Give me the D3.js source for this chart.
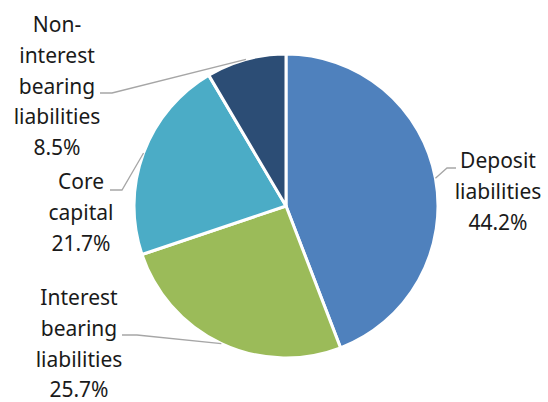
<!DOCTYPE html>
<meta charset="utf-8">
<html>
<script src="https://d3js.org/d3.v7.min.js"></script>
<style>
    body { margin: 0; background: #fff; }
    text { font-family: "Noto Sans", sans-serif; font-size: 21px; fill: #1a1a1a; }
</style>
<body>
<div id="chart"></div>
<script>
    // data
    var categories = ["Deposit liabilities", "Interest bearing liabilities", "Core capital", "Non-interest bearing liabilities"];
    var shares = [44.2, 25.7, 21.7, 8.5];
    var labelLines = [["Deposit", "liabilities"], ["Interest", "bearing", "liabilities"], ["Core", "capital"], ["Non-", "interest", "bearing", "liabilities"]];
    var colors = ["#4f81bd", "#9bbb59", "#4bacc6", "#2c4d75"];

    var width = 548, height = 402;
    var cx = 286, cy = 206, radius = 152;

    // label layout: elbow point, line end, text centre x, first baseline
    var layout = [
        { elbow: [447, 168], end: [456, 168], tx: 498, ty: 168 },
        { elbow: [137, 335], end: [122, 335], tx: 79, ty: 305 },
        { elbow: [122, 190], end: [110, 190], tx: 81, ty: 189 },
        { elbow: [112, 93], end: [100, 93], tx: 57, ty: 32 }
    ];
    var lineH = 30.8;

    var svg = d3.select("#chart").append("svg")
        .attr("width", width)
        .attr("height", height);

    var g = svg.append("g").attr("transform", "translate(" + cx + "," + cy + ")");

    var pie = d3.pie().sort(null).value(function (d) { return d; });
    var arcs = pie(shares);
    var arc = d3.arc().innerRadius(0).outerRadius(radius);

    g.selectAll("path.slice")
        .data(arcs).enter().append("path")
        .attr("class", "slice")
        .attr("d", arc)
        .attr("fill", function (d, i) { return colors[i]; })
        .attr("stroke", "#fff")
        .attr("stroke-width", 3)
        .attr("stroke-linejoin", "round");

    // leader lines and labels
    arcs.forEach(function (d, i) {
        var a = (d.startAngle + d.endAngle) / 2;
        var px = cx + radius * Math.sin(a), py = cy - radius * Math.cos(a);
        var L = layout[i];
        svg.append("polyline")
            .attr("points", [[px, py], L.elbow, L.end].map(function (p) { return p.join(","); }).join(" "))
            .attr("fill", "none")
            .attr("stroke", "#a6a6a6")
            .attr("stroke-width", 1.3);

        var t = svg.append("text")
            .attr("text-anchor", "middle");
        var lines = labelLines[i].concat([d3.format(".1f")(shares[i]) + "%"]);
        lines.forEach(function (s, k) {
            t.append("tspan")
                .attr("x", L.tx)
                .attr("y", L.ty + k * lineH)
                .text(s);
        });
    });
</script>
</body>
</html>
